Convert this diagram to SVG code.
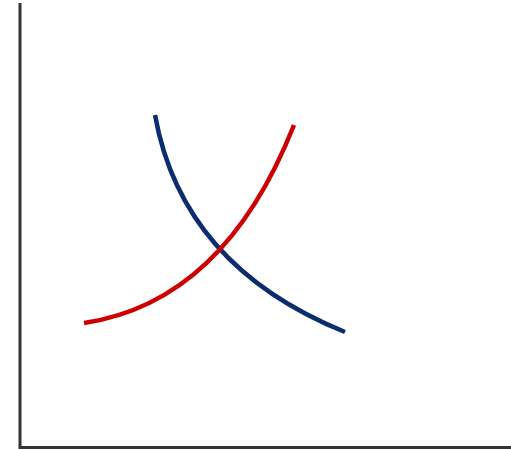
<svg xmlns="http://www.w3.org/2000/svg" width="511" height="449" viewBox="0 0 511 449">
<style>
.axis{stroke:#333;stroke-width:3;fill:none}
.curve{fill:none;stroke-width:4.5;stroke-linecap:butt}
</style>
<rect width="511" height="449" fill="#fff"/>
<g id="axes">
<path class="axis" d="M20,3 V447.5 H511"/>
</g>
<g id="curves">
<path id="demand" class="curve" stroke="#0b2d6f" d="M155,115 Q182,266 345,332"/>
<path id="supply" class="curve" stroke="#cc0000" d="M84,323 Q224,302 294,125"/>
</g>
</svg>
